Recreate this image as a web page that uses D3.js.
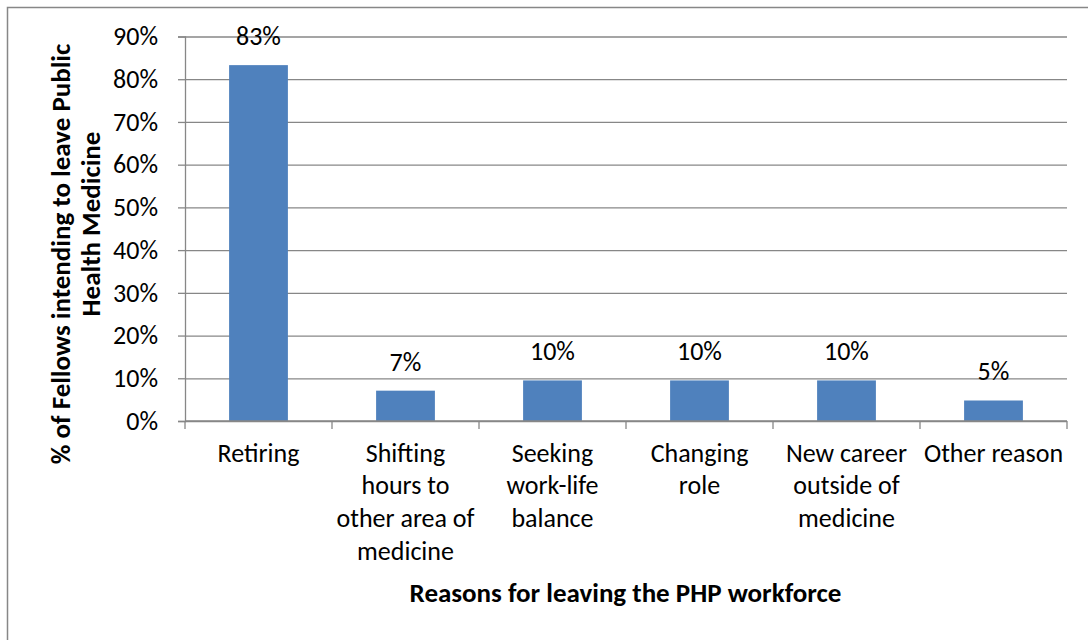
<!DOCTYPE html>
<html lang="en">
<head>
    <meta charset="UTF-8">
    <title>Reasons for leaving the PHP workforce</title>
    <script src="https://cdn.jsdelivr.net/npm/d3@7/dist/d3.min.js"></script>
    <style>
        body { margin: 0; background: #fff; }
        text { font-family: Carlito, Calibri, Lato, sans-serif; fill: #000; }
    </style>
</head>
<body>

<script>

    // data
    var categories = ["Retiring", "Shifting hours to other area of medicine", "Seeking work-life balance",
        "Changing role", "New career outside of medicine", "Other reason"];
    var values = [0.833, 0.071, 0.095, 0.095, 0.095, 0.048];
    // how each category label wraps under the axis
    var tickLines = [
        ["Retiring"],
        ["Shifting", "hours to", "other area of", "medicine"],
        ["Seeking", "work-life", "balance"],
        ["Changing", "role"],
        ["New career", "outside of", "medicine"],
        ["Other reason"]
    ];
    var yTicks = [0, 0.1, 0.2, 0.3, 0.4, 0.5, 0.6, 0.7, 0.8, 0.9];
    var yTitle = ["% of Fellows intending to leave Public", "Health Medicine"];
    var xTitle = "Reasons for leaving the PHP workforce";

    var w = 1088, h = 640;
    // plot area edges (note: "top" is taken by window.top, so prefix these)
    var pLeft = 185, pRight = 1067, pTop = 36.5, pBottom = 421;
    var fontSize = 26;
    var titleSize = 27;
    var gridColor = "#878787";

    var svg = d3.select("body")
        .append("svg")
        .attr("width", w)
        .attr("height", h);

    // outer chart frame (runs off the right and bottom of the picture)
    svg.append("rect")
        .attr("x", 7.5)
        .attr("y", 7.5)
        .attr("width", 1200)
        .attr("height", 800)
        .attr("fill", "none")
        .attr("stroke", gridColor)
        .attr("stroke-width", 1.5);

    var x = d3.scaleBand()
        .domain(categories)
        .range([pLeft, pRight])
        .paddingInner(0.6)
        .paddingOuter(0.3);

    var y = d3.scaleLinear()
        .domain([0, 0.9])
        .range([pBottom, pTop]);

    // gridlines
    var grid = svg.append("g")
        .attr("transform", "translate(" + pLeft + ",0)")
        .call(d3.axisLeft(y).tickValues(yTicks).tickSize(-(pRight - pLeft)).tickFormat(""));
    grid.select(".domain").remove();
    grid.selectAll("line").attr("stroke", gridColor).attr("stroke-width", 1.3);

    // y axis with labels
    var yAxis = svg.append("g")
        .attr("transform", "translate(" + pLeft + ",0)")
        .call(d3.axisLeft(y).tickValues(yTicks).tickSize(7).tickPadding(20).tickFormat(d3.format(".0%")));
    yAxis.attr("font-family", null).attr("font-size", null);
    yAxis.select(".domain").attr("stroke", gridColor).attr("stroke-width", 1.3);
    yAxis.selectAll("line").attr("stroke", gridColor).attr("stroke-width", 1.3);
    yAxis.selectAll("text")
        .attr("font-size", fontSize)
        .attr("fill", "#000");

    // bars
    svg.selectAll("rect.bar")
        .data(values)
        .enter()
        .append("rect")
        .attr("class", "bar")
        .attr("x", function (d, i) { return x(categories[i]); })
        .attr("y", function (d) { return y(d); })
        .attr("width", x.bandwidth())
        .attr("height", function (d) { return y(0) - y(d); })
        .attr("fill", "#4F81BD");

    // x axis line and the tick marks between categories
    svg.append("line")
        .attr("x1", pLeft).attr("x2", pRight)
        .attr("y1", y(0)).attr("y2", y(0))
        .attr("stroke", gridColor).attr("stroke-width", 1.3);

    svg.selectAll("line.xtick")
        .data(d3.range(categories.length + 1))
        .enter()
        .append("line")
        .attr("class", "xtick")
        .attr("x1", function (i) { return pLeft + i * x.step(); })
        .attr("x2", function (i) { return pLeft + i * x.step(); })
        .attr("y1", y(0))
        .attr("y2", y(0) + 8)
        .attr("stroke", gridColor).attr("stroke-width", 1.3);

    // category labels, wrapped
    var cat = svg.selectAll("text.cat")
        .data(categories)
        .enter()
        .append("text")
        .attr("class", "cat")
        .attr("text-anchor", "middle")
        .attr("font-size", fontSize)
        .attr("y", y(0) + 40.5);
    cat.each(function (d, i) {
        d3.select(this).selectAll("tspan")
            .data(tickLines[i])
            .enter()
            .append("tspan")
            .attr("x", x(d) + x.bandwidth() / 2)
            .attr("dy", function (t, j) { return j === 0 ? 0 : 32.8; })
            .text(function (t) { return t; });
    });

    // value labels above bars
    svg.selectAll("text.val")
        .data(values)
        .enter()
        .append("text")
        .attr("class", "val")
        .attr("text-anchor", "middle")
        .attr("font-size", fontSize)
        .attr("x", function (d, i) { return x(categories[i]) + x.bandwidth() / 2; })
        .attr("y", function (d) { return y(d) - 20; })
        .text(d3.format(".0%"));

    // axis titles
    svg.append("text")
        .attr("text-anchor", "middle")
        .attr("font-size", titleSize)
        .attr("font-weight", "bold")
        .attr("x", 625.5)
        .attr("y", 601.5)
        .text(xTitle);

    var yCenters = [254, 224], yBase = [70, 100];
    svg.selectAll("text.ytitle")
        .data(yTitle)
        .enter()
        .append("text")
        .attr("class", "ytitle")
        .attr("text-anchor", "middle")
        .attr("font-size", titleSize)
        .attr("font-weight", "bold")
        .attr("transform", function (d, i) {
            return "translate(" + yBase[i] + "," + yCenters[i] + ") rotate(-90)";
        })
        .text(function (d) { return d; });

</script>

</body>
</html>
